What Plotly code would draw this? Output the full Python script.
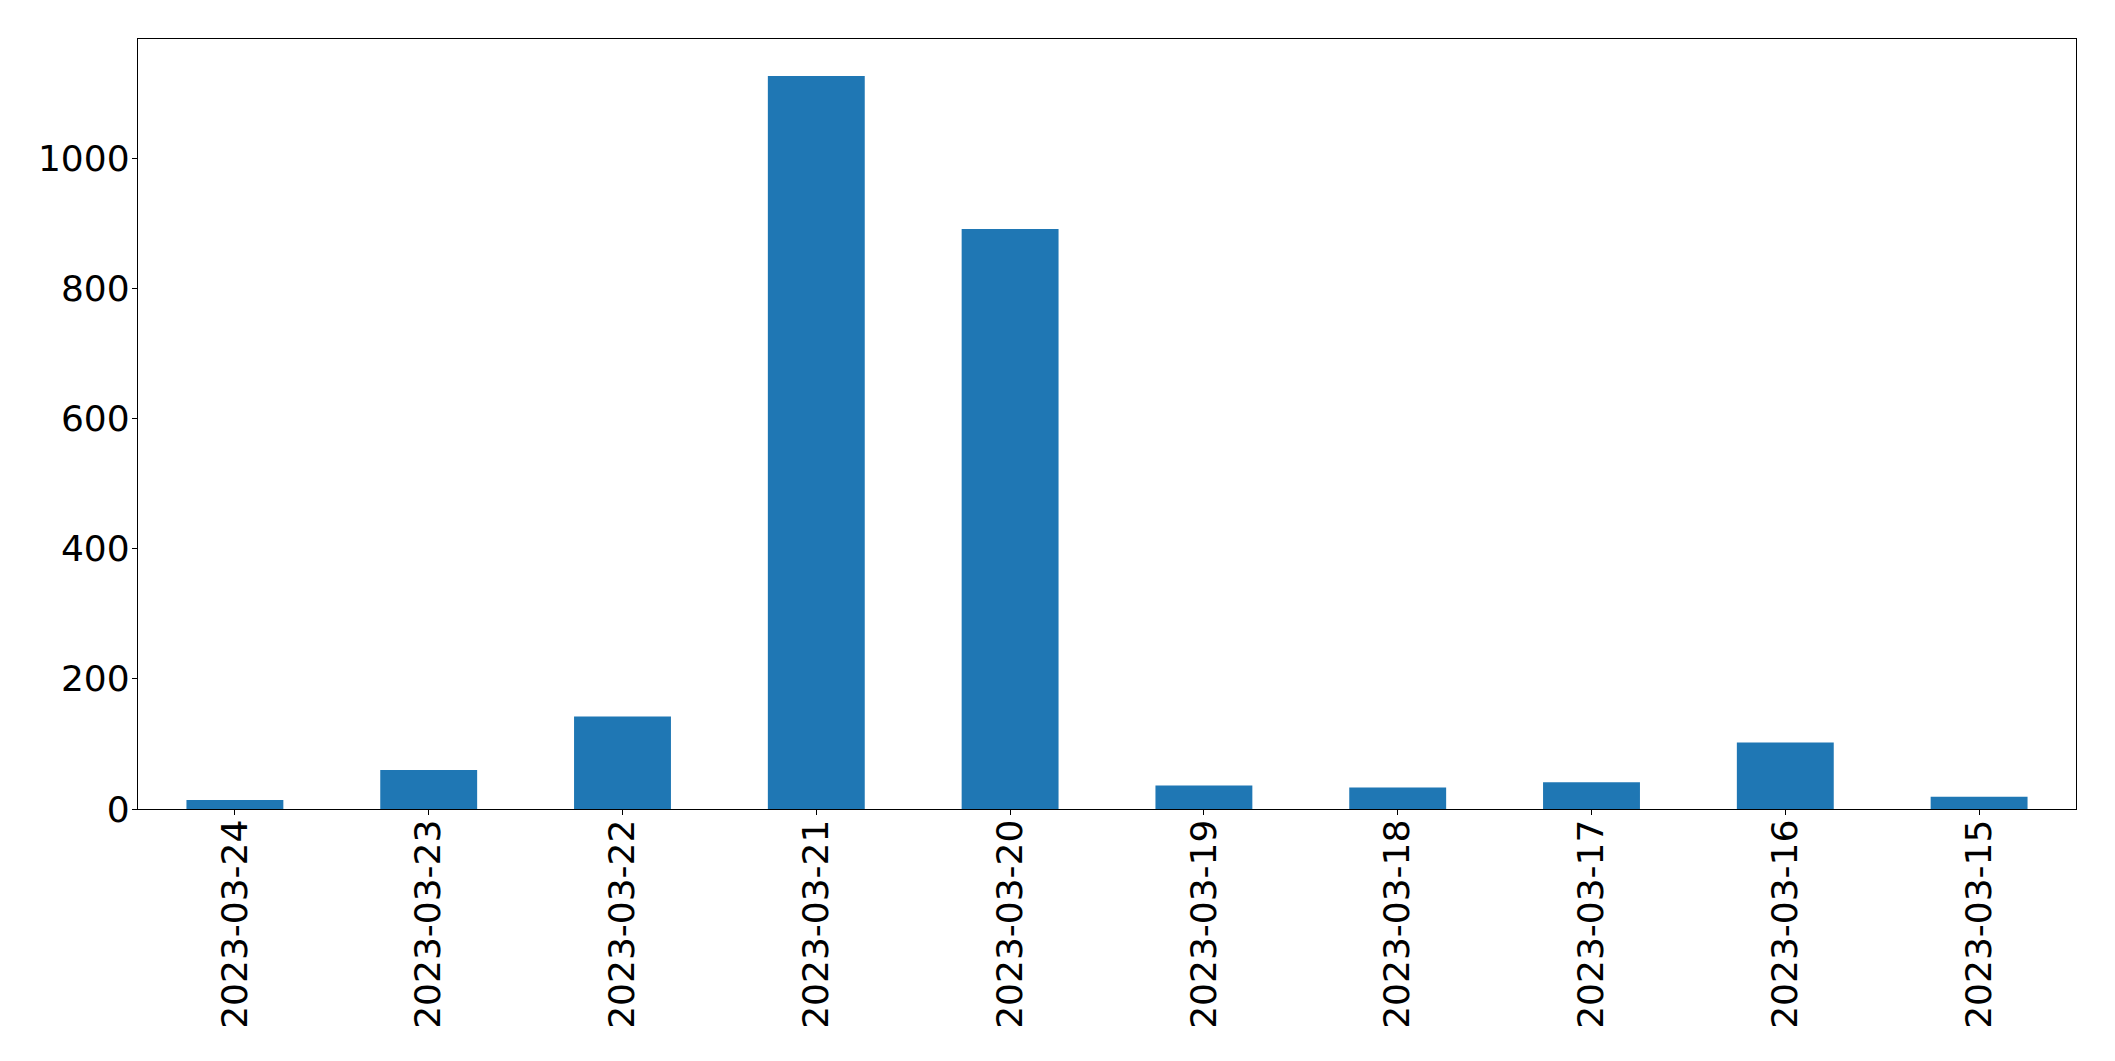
import plotly.graph_objects as go

dates = ["2023-03-24", "2023-03-23", "2023-03-22", "2023-03-21", "2023-03-20",
         "2023-03-19", "2023-03-18", "2023-03-17", "2023-03-16", "2023-03-15"]
counts = [14, 60, 142, 1126, 891, 36, 33, 41, 102, 19]
y_ticks = [0, 200, 400, 600, 800, 1000]

fig = go.Figure(go.Bar(x=list(range(len(dates))), y=counts, width=0.5,
                       marker=dict(color="#1f77b4", line=dict(width=0))))

fig.update_layout(
    width=2115, height=1061,
    margin=dict(l=130, r=47, t=31, b=260),
    paper_bgcolor="white", plot_bgcolor="white",
    font=dict(family="DejaVu Sans", size=36, color="black"),
    showlegend=False,
)
fig.update_xaxes(
    range=[-0.5, 9.5], tickmode="array", tickvals=list(range(len(dates))), ticktext=dates,
    tickangle=-90, ticks="outside", ticklen=5, tickwidth=1.4, tickcolor="black",
    showline=True, linecolor="black", linewidth=1.4, mirror=True,
    showgrid=False, zeroline=False, ticklabelstandoff=-10,
)
fig.update_yaxes(
    range=[0, 1183], tickmode="array", tickvals=y_ticks, ticktext=[str(v) for v in y_ticks],
    ticks="outside", ticklen=5, tickwidth=1.4, tickcolor="black",
    showline=True, linecolor="black", linewidth=1.4, mirror=True,
    showgrid=False, zeroline=False, ticklabelstandoff=-5,
)

fig.write_html("out.html")
